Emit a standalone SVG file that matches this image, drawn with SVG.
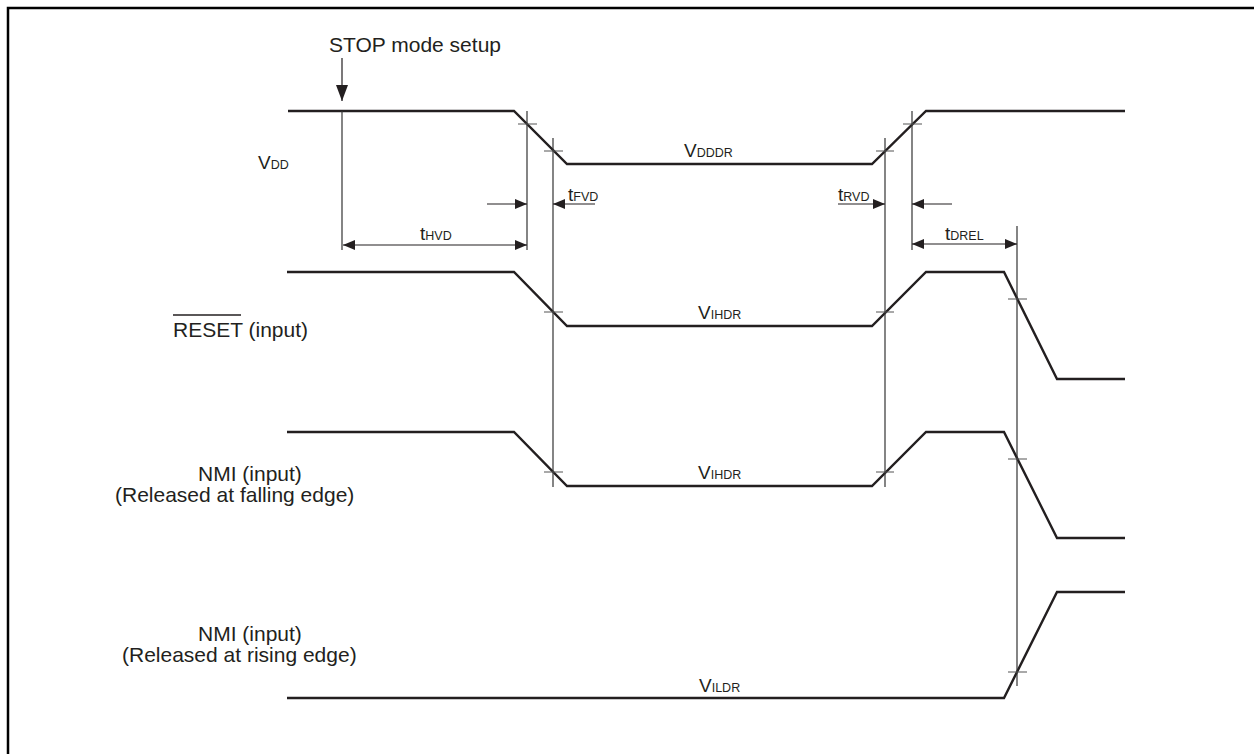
<svg xmlns="http://www.w3.org/2000/svg" width="1254" height="754" viewBox="0 0 1254 754">
<style>
  .sig { fill: none; stroke: #231f20; stroke-width: 2.4; stroke-linejoin: miter; }
  .ref { fill: none; stroke: #333; stroke-width: 1.2; }
  .tick { fill: none; stroke: #555; stroke-width: 1.2; }
  .dim { fill: none; stroke: #231f20; stroke-width: 1.2; }
  text { font-family: "Liberation Sans", Arial, sans-serif; fill: #231f20; }
  .lbl { font-size: 21px; }
  .sym { font-size: 19px; }
  .sub { font-size: 12.5px; }
</style>
<defs>
  <marker id="ah" viewBox="0 0 12 10" refX="12" refY="5" markerWidth="12" markerHeight="10" markerUnits="userSpaceOnUse" orient="auto">
    <path d="M0,0 L12,5 L0,10 Z" fill="#231f20"/>
  </marker>
  <marker id="ahs" viewBox="0 0 12 10" refX="12" refY="5" markerWidth="12" markerHeight="10" markerUnits="userSpaceOnUse" orient="auto-start-reverse">
    <path d="M0,0 L12,5 L0,10 Z" fill="#231f20"/>
  </marker>
  <marker id="ahBig" viewBox="0 0 16 12" refX="16" refY="6" markerWidth="16" markerHeight="12" markerUnits="userSpaceOnUse" orient="auto">
    <path d="M0,0 L16,6 L0,12 Z" fill="#231f20"/>
  </marker>
</defs>
<rect width="1254" height="754" fill="#ffffff"/>
<g id="frame">
  <path d="M8,754 L8,8 L1254,8" fill="none" stroke="#000" stroke-width="2.5"/>
</g>

<g id="labels">
  <text class="lbl" x="329" y="52">STOP mode setup</text>
  <text x="258" y="169"><tspan class="sym">V</tspan><tspan class="sub">DD</tspan></text>
  <g id="reset-label">
    <text class="lbl" x="173" y="337">RESET (input)</text>
    <line x1="173" y1="315" x2="241" y2="315" stroke="#231f20" stroke-width="1.4"/>
  </g>
  <text class="lbl" x="198" y="481">NMI (input)</text>
  <text class="lbl" x="115" y="502">(Released at falling edge)</text>
  <text class="lbl" x="198" y="641">NMI (input)</text>
  <text class="lbl" x="122" y="662">(Released at rising edge)</text>
</g>

<g id="signal-vdd">
  <path class="sig" d="M288,111 L514,111 L567,164 L872,164 L926,111 L1125,111"/>
  <text x="684" y="157"><tspan class="sym">V</tspan><tspan class="sub">DDDR</tspan></text>
</g>
<g id="signal-reset">
  <path class="sig" d="M287,272 L514,272 L567,326 L872,326 L926,272 L1004,272 L1057,379 L1125,379"/>
  <text x="698" y="319"><tspan class="sym">V</tspan><tspan class="sub">IHDR</tspan></text>
</g>
<g id="signal-nmi-fall">
  <path class="sig" d="M287,432 L514,432 L567,486 L872,486 L926,432 L1004,432 L1057,538 L1125,538"/>
  <text x="698" y="479"><tspan class="sym">V</tspan><tspan class="sub">IHDR</tspan></text>
</g>
<g id="signal-nmi-rise">
  <path class="sig" d="M287,698 L1004,698 L1057,592 L1125,592"/>
  <text x="699" y="692"><tspan class="sym">V</tspan><tspan class="sub">ILDR</tspan></text>
</g>

<g id="connectors">
  <line class="dim" x1="342" y1="58" x2="342" y2="101" marker-end="url(#ahBig)"/>
  <line class="ref" x1="342" y1="111" x2="342" y2="250"/>
  <line class="ref" x1="527" y1="111" x2="527" y2="250"/>
  <line class="ref" x1="553" y1="138" x2="553" y2="487"/>
  <line class="ref" x1="885" y1="138" x2="885" y2="487"/>
  <line class="ref" x1="912" y1="111" x2="912" y2="250"/>
  <line class="ref" x1="1017" y1="226" x2="1017" y2="686"/>
  <path class="tick" d="M518,124 H537 M544,151 H563 M876,151 H894 M903,124 H922
                        M544,312 H563 M876,312 H894 M1008,299 H1027
                        M544,472 H563 M876,472 H894 M1008,459 H1027 M1008,672 H1027"/>
  <line class="dim" x1="343" y1="245" x2="527" y2="245" marker-start="url(#ahs)" marker-end="url(#ah)"/>
  <text x="420" y="240"><tspan class="sym">t</tspan><tspan class="sub">HVD</tspan></text>
  <line class="dim" x1="487" y1="204" x2="527" y2="204" marker-end="url(#ah)"/>
  <line class="dim" x1="595" y1="204" x2="553" y2="204" marker-end="url(#ah)"/>
  <text x="568" y="201"><tspan class="sym">t</tspan><tspan class="sub">FVD</tspan></text>
  <line class="dim" x1="838" y1="204" x2="885" y2="204" marker-end="url(#ah)"/>
  <line class="dim" x1="952" y1="204" x2="912" y2="204" marker-end="url(#ah)"/>
  <text x="838" y="201"><tspan class="sym">t</tspan><tspan class="sub">RVD</tspan></text>
  <line class="dim" x1="912" y1="244" x2="1017" y2="244" marker-start="url(#ahs)" marker-end="url(#ah)"/>
  <text x="945" y="240"><tspan class="sym">t</tspan><tspan class="sub">DREL</tspan></text>
</g>
</svg>
